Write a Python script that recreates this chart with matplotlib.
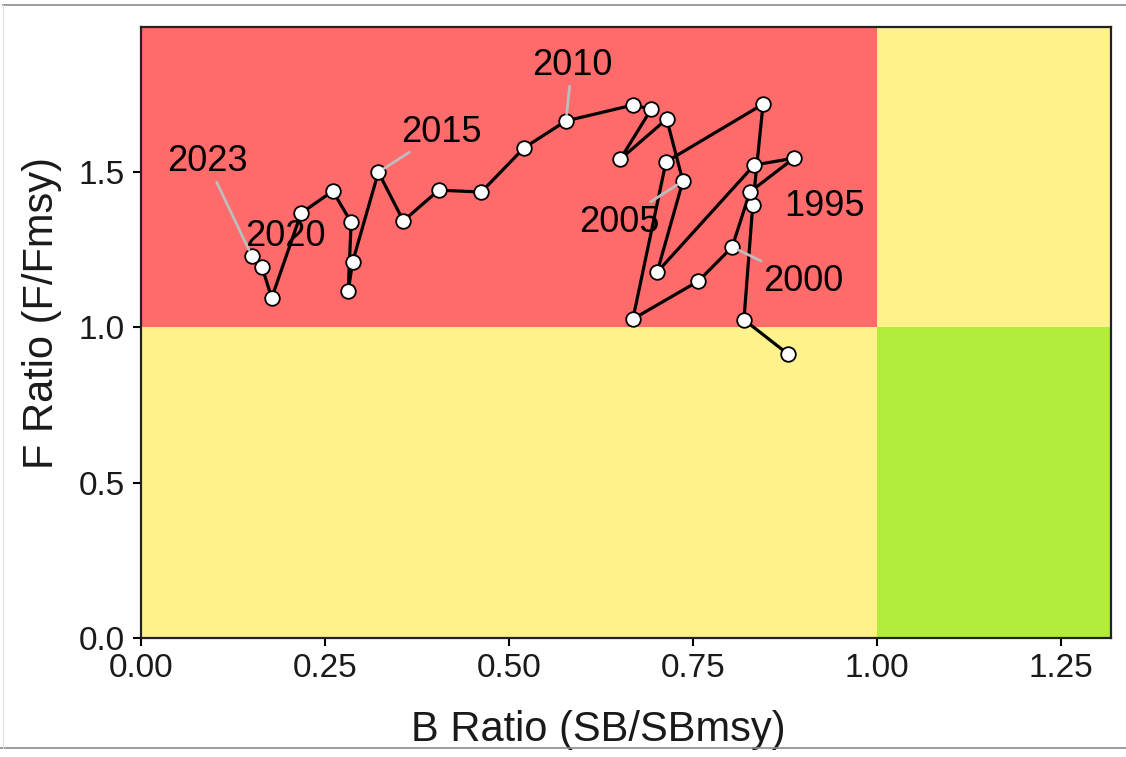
import matplotlib
matplotlib.use("Agg")
import matplotlib.pyplot as plt
from matplotlib.lines import Line2D
from matplotlib.patches import Rectangle

# ---- data ----
years = list(range(1993, 2024))
b_ratio = [0.879, 0.819, 0.831, 0.845, 0.713, 0.668, 0.757, 0.803, 0.827, 0.887,
           0.833, 0.701, 0.736, 0.714, 0.651, 0.693, 0.668, 0.577, 0.520, 0.462,
           0.404, 0.356, 0.322, 0.287, 0.281, 0.285, 0.260, 0.217, 0.177, 0.164,
           0.150]
f_ratio = [0.914, 1.025, 1.394, 1.719, 1.533, 1.027, 1.149, 1.259, 1.436, 1.545,
           1.523, 1.178, 1.471, 1.671, 1.542, 1.703, 1.716, 1.665, 1.578, 1.436,
           1.442, 1.343, 1.500, 1.211, 1.117, 1.339, 1.439, 1.368, 1.095, 1.194,
           1.230]
label_years = [1995, 2000, 2005, 2010, 2015, 2020, 2023]
# label text positions (data coords)
label_x = [0.928, 0.899, 0.649, 0.585, 0.407, 0.195, 0.089]
label_y = [1.388, 1.149, 1.339, 1.842, 1.629, 1.294, 1.533]
label_segment = [False, True, True, True, True, False, True]

x_ticks = [0.00, 0.25, 0.50, 0.75, 1.00, 1.25]
y_ticks = [0.0, 0.5, 1.0, 1.5]
x_max = 1.318
y_max = 1.969

RED = "#FF6A6A"
YELLOW = "#FFF28C"
GREEN = "#B2ED3C"

plt.rcParams['font.family'] = ['Liberation Sans', 'DejaVu Sans']

W, H = 1126, 757
fig = plt.figure(figsize=(W / 100, H / 100), dpi=100)
ax = fig.add_axes([141.5 / W, (H - 638) / H, (1111 - 141.5) / W, (638 - 26.5) / H])

ax.set_xlim(0, x_max)
ax.set_ylim(0, y_max)

# quadrants
ax.add_patch(Rectangle((0, 1), 1, y_max - 1, facecolor=RED, edgecolor='none', zorder=0))
ax.add_patch(Rectangle((1, 1), x_max - 1, y_max - 1, facecolor=YELLOW, edgecolor='none', zorder=0))
ax.add_patch(Rectangle((0, 0), 1, 1, facecolor=YELLOW, edgecolor='none', zorder=0))
ax.add_patch(Rectangle((1, 0), x_max - 1, 1, facecolor=GREEN, edgecolor='none', zorder=0))

# trajectory
ax.plot(b_ratio, f_ratio, color='black', lw=2.3, zorder=3, solid_joinstyle='round')
ax.plot(b_ratio, f_ratio, linestyle='none', marker='o', ms=10.5, mfc='white',
        mec='black', mew=1.3, zorder=4)

# year labels
for yr, lx, ly, seg in zip(label_years, label_x, label_y, label_segment):
    i = years.index(yr)
    ap = None
    if seg:
        ap = dict(arrowstyle='-', color='#BDBDBD', lw=2.0, shrinkA=0, shrinkB=5)
    ax.annotate(str(yr), xy=(b_ratio[i], f_ratio[i]), xytext=(lx, ly),
                ha='center', va='center', fontsize=26, color='black',
                arrowprops=ap, zorder=5)

ax.set_xticks(x_ticks)
ax.set_xticklabels([f"{v:.2f}" for v in x_ticks])
ax.set_yticks(y_ticks)
ax.set_yticklabels([f"{v:.1f}" for v in y_ticks])
ax.tick_params(axis='both', direction='out', length=6, width=1.5, colors='black',
               labelsize=24, labelcolor='#1a1a1a')
ax.tick_params(axis='x', pad=5)
ax.tick_params(axis='y', pad=6)

for s in ax.spines.values():
    s.set_linewidth(1.6)
    s.set_color('#222222')
    s.set_zorder(6)

ax.set_xlabel("B Ratio (SB/SBmsy)", fontsize=30, color='#1a1a1a')
ax.set_ylabel("F Ratio (F/Fmsy)", fontsize=30, color='#1a1a1a')
ax.xaxis.set_label_coords((598 - 141.5) / 969.5, (638 - 710) / 611.5)
ax.yaxis.set_label_coords((62 - 141.5) / 969.5, (638 - 313) / 611.5)

# screenshot frame lines
fig.add_artist(Line2D([3 / W, 1], [1 - 5 / H, 1 - 5 / H], color='#8a8a8a', lw=1.2))
fig.add_artist(Line2D([0, 1], [1 - 748 / H, 1 - 748 / H], color='#8a8a8a', lw=1.2))
fig.add_artist(Line2D([3 / W, 3 / W], [1 - 5 / H, 1 - 748 / H], color='#dddddd', lw=0.8))

fig.savefig("out.png", dpi=100)
